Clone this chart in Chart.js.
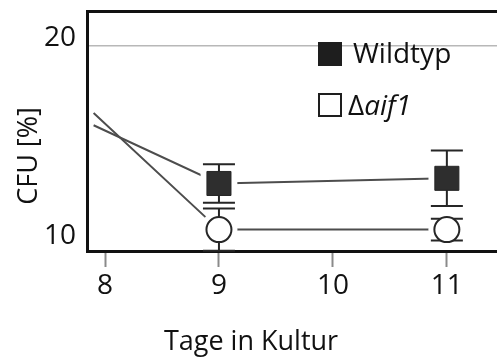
<!DOCTYPE html>
<html>
<head>
<meta charset="utf-8">
<script src="https://cdn.jsdelivr.net/npm/chart.js@4.4.1/dist/chart.umd.min.js"></script>
<style>
  html, body { margin: 0; padding: 0; background: #fff; }
  #wrap { position: relative; width: 497px; height: 361px; overflow: hidden; }
  #chart { display: block; }
  .key { position: absolute; font-family: 'Open Sans', sans-serif; font-size: 28px; line-height: 28px; color: #111; white-space: nowrap; }
  .swatch { position: absolute; width: 24px; height: 24px; box-sizing: border-box; }
  .swatch.filled { background: #1e1e1e; }
  .swatch.open { background: #fff; border: 2px solid #1e1e1e; }
</style>
</head>
<body>
<div id="wrap">
  <canvas id="chart" width="497" height="361"></canvas>
  <div class="swatch filled" style="left:318px;top:42px"></div>
  <div class="key" style="left:353px;top:38px">Wildtyp</div>
  <div class="swatch open" style="left:318px;top:93px"></div>
  <div class="key" style="left:348px;top:90px">Δ<i>aif1</i></div>
</div>
<script>
// Days in culture (first entry is where the incoming trend lines begin)
const days = [7.9, 9, 11];

// CFU in percent, mean and error (± half-range) per day
const wildtyp    = [16.0, 13.06, 13.32];
const wildtypErr = [null, 0.97, 1.4];
const aif1       = [16.62, 10.73, 10.73];
const aif1Err    = [null, 1.07, 0.55];

// Axis tick labels
const xTicks = [8, 9, 10, 11];
const yTicks = [10, 20];

const toPoints = (vals) => days.map((d, i) => ({ x: d, y: vals[i] }));

const LINE = '#4d4d4d';
const INK = '#262626';

// Error bars are painted right before each marker dataset, so the
// marker sits on top of its whiskers.
const errorBars = {
  id: 'errorBars',
  beforeDatasetDraw(chart, args) {
    const ds = chart.data.datasets[args.index];
    if (!ds.errors) return;
    const xs = chart.scales.x, ys = chart.scales.y, ctx = chart.ctx;
    const cap = 16;
    ctx.save();
    ctx.strokeStyle = INK;
    ctx.lineWidth = 2;
    ds.data.forEach((p, i) => {
      const e = ds.errors[i];
      if (!e) return;
      const px = xs.getPixelForValue(p.x);
      const top = ys.getPixelForValue(p.y + e);
      const bot = ys.getPixelForValue(p.y - e);
      ctx.beginPath();
      ctx.moveTo(px, top); ctx.lineTo(px, bot);
      ctx.moveTo(px - cap, top); ctx.lineTo(px + cap, top);
      ctx.moveTo(px - cap, bot); ctx.lineTo(px + cap, bot);
      ctx.stroke();
    });
    ctx.restore();
  }
};

// Axis captions
const captions = {
  id: 'captions',
  afterDraw(chart) {
    const ctx = chart.ctx;
    ctx.save();
    ctx.fillStyle = '#111';
    ctx.font = '27px "Open Sans", sans-serif';
    ctx.textAlign = 'center';
    ctx.textBaseline = 'alphabetic';
    ctx.fillText('Tage in Kultur', 251, 350);
    ctx.translate(37, 156);
    ctx.rotate(-Math.PI / 2);
    ctx.fillText('CFU [%]', 0, 0);
    ctx.restore();
  }
};

const skipFirst = (r) => (ctx) => ctx.dataIndex === 0 ? 0 : r;

// fixed axis sizes, no extra room reserved for edge labels
const fixSize = (w, h) => (s) => {
  if (w !== null) s.width = w;
  if (h !== null) s.height = h;
  s.paddingTop = s.paddingBottom = s.paddingLeft = s.paddingRight = 0;
};

new Chart(document.getElementById('chart'), {
  type: 'line',
  data: {
    datasets: [
      // connecting lines
      { label: 'Wildtyp line', data: toPoints(wildtyp), borderColor: LINE, borderWidth: 2,
        pointRadius: 0, fill: false, order: 3 },
      { label: 'aif1 line', data: toPoints(aif1), borderColor: LINE, borderWidth: 2,
        pointRadius: 0, fill: false, order: 3 },
      // white clearance around each marker so the lines stop short of it
      { label: 'Wildtyp clearance', data: toPoints(wildtyp), showLine: false, pointStyle: 'rect',
        pointRadius: skipFirst(26), pointBackgroundColor: '#fff', pointBorderWidth: 0, order: 2 },
      { label: 'aif1 clearance', data: toPoints(aif1), showLine: false, pointStyle: 'circle',
        pointRadius: skipFirst(18.5), pointBackgroundColor: '#fff', pointBorderWidth: 0, order: 2 },
      // markers
      { label: 'Wildtyp', data: toPoints(wildtyp), errors: wildtypErr, showLine: false, pointStyle: 'rect',
        pointRadius: skipFirst(17), pointBackgroundColor: '#2e2e2e', pointBorderColor: INK,
        pointBorderWidth: 1, order: 1 },
      { label: 'Δaif1', data: toPoints(aif1), errors: aif1Err, showLine: false, pointStyle: 'circle',
        pointRadius: skipFirst(12.5), pointBackgroundColor: '#fff', pointBorderColor: INK,
        pointBorderWidth: 2, order: 1 }
    ]
  },
  options: {
    responsive: false,
    animation: false,
    events: [],
    layout: { padding: 0, autoPadding: false },
    plugins: { legend: { display: false }, tooltip: { enabled: false } },
    scales: {
      x: {
        type: 'linear', position: 'bottom', min: 7.842, max: 11.44,
        afterBuildTicks: (s) => { s.ticks = xTicks.map(v => ({ value: v })); },
        afterFit: fixSize(null, 110),
        border: { display: true, color: '#111', width: 3 },
        grid: { drawOnChartArea: false, drawTicks: true, tickLength: 16, tickColor: '#8a8a8a', tickWidth: 2 },
        ticks: { color: '#111', padding: 2, font: { family: 'Open Sans', size: 28 }, maxRotation: 0 }
      },
      xTop: {
        type: 'linear', position: 'top', min: 7.842, max: 11.44,
        afterFit: fixSize(null, 11),
        border: { display: true, color: '#111', width: 3 },
        grid: { drawOnChartArea: false, drawTicks: false },
        ticks: { display: false }
      },
      y: {
        type: 'linear', position: 'left', min: 9.65, max: 21.77,
        afterBuildTicks: (s) => { s.ticks = yTicks.map(v => ({ value: v })); },
        afterFit: fixSize(87, null),
        border: { display: true, color: '#111', width: 3 },
        grid: {
          drawTicks: false,
          color: (c) => (c.tick && c.tick.value === 20) ? '#b8b8b8' : 'rgba(0,0,0,0)',
          lineWidth: 1.5
        },
        ticks: { color: '#111', padding: 11, labelOffset: -8, font: { family: 'Open Sans', size: 28 } }
      }
    }
  },
  plugins: [errorBars, captions]
});
</script>
</body>
</html>
